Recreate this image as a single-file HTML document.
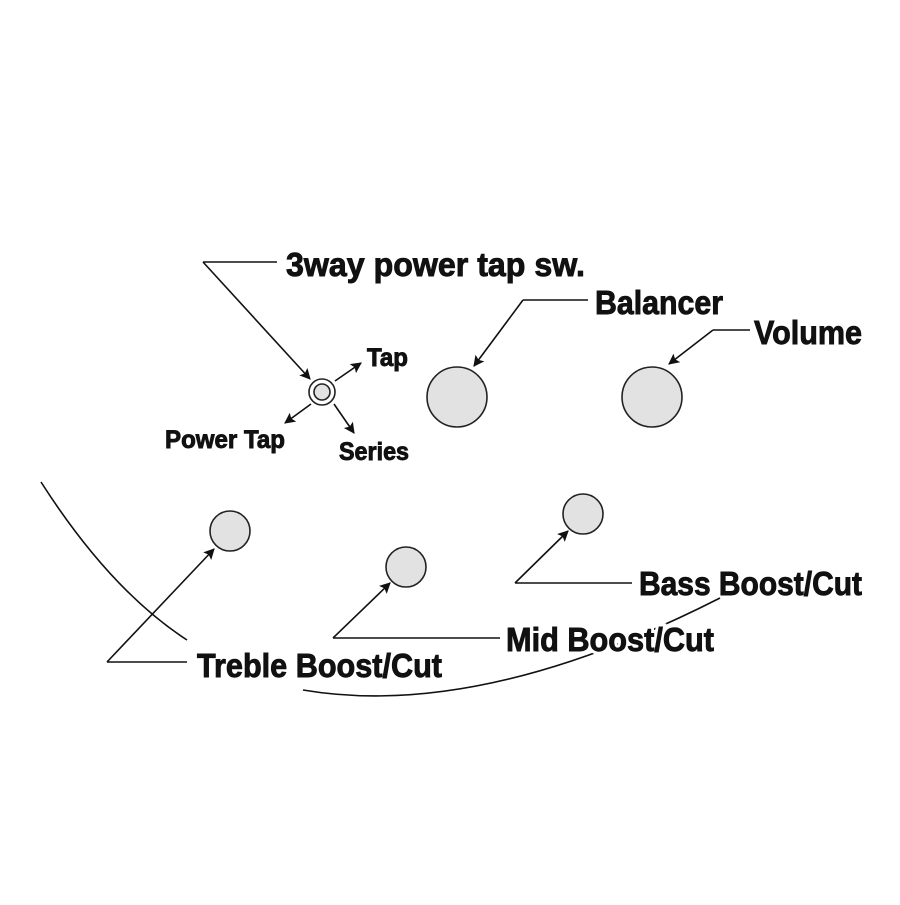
<!DOCTYPE html>
<html><head><meta charset="utf-8"><style>
html,body{margin:0;padding:0;background:#fff;}
svg text{font-family:"Liberation Sans Narrow","Liberation Sans",sans-serif;font-weight:bold;}
</style></head><body>
<svg width="900" height="900" viewBox="0 0 900 900" xmlns="http://www.w3.org/2000/svg">
<defs>
<marker id="a" viewBox="0 0 10 10" refX="9" refY="5" markerWidth="12" markerHeight="11" markerUnits="userSpaceOnUse" orient="auto">
<path d="M0,0 L10,5 L0,10 L2,5 z" fill="#111"/></marker>
</defs>
<g fill="none" stroke="#111" stroke-width="1.6">
<path d="M41,482 Q110,590 187,640"/>
<path d="M303,690 Q480,720 720,598"/>
<polyline points="277,262 203,262"/>
<line x1="203" y1="262" x2="310" y2="379" marker-end="url(#a)"/>
<line x1="335" y1="381" x2="361" y2="363" marker-end="url(#a)"/>
<line x1="311" y1="404" x2="285" y2="423" marker-end="url(#a)"/>
<line x1="334" y1="404" x2="354" y2="433" marker-end="url(#a)"/>
<line x1="588" y1="300" x2="523" y2="300"/>
<line x1="523" y1="300" x2="474" y2="366" marker-end="url(#a)"/>
<line x1="750" y1="330" x2="713" y2="330"/>
<line x1="713" y1="330" x2="669" y2="364" marker-end="url(#a)"/>
<line x1="187" y1="662" x2="107" y2="662"/>
<line x1="107" y1="662" x2="214" y2="549" marker-end="url(#a)"/>
<line x1="500" y1="638" x2="333" y2="638"/>
<line x1="333" y1="638" x2="390" y2="583" marker-end="url(#a)"/>
<line x1="632" y1="583" x2="515" y2="583"/>
<line x1="515" y1="583" x2="568" y2="531" marker-end="url(#a)"/>
</g>
<g stroke="#222" stroke-width="1.6" fill="#e2e2e2">
<circle cx="322" cy="392" r="13" fill="#fff"/>
<circle cx="322" cy="392" r="8"/>
<circle cx="457" cy="397" r="30"/>
<circle cx="652" cy="397" r="30"/>
<circle cx="230" cy="531" r="20"/>
<circle cx="406" cy="567" r="20"/>
<circle cx="583" cy="514" r="20"/>
</g>
<g fill="#fff" stroke="#fff" stroke-width="7">
<text x="506" y="651" font-size="33" textLength="208" lengthAdjust="spacingAndGlyphs">Mid Boost/Cut</text>
<text x="197" y="677" font-size="33" textLength="245" lengthAdjust="spacingAndGlyphs">Treble Boost/Cut</text>
</g>
<g fill="#111" stroke="#111" stroke-width="0.9">
<text x="286" y="276" font-size="33" textLength="299" lengthAdjust="spacingAndGlyphs">3way power tap sw.</text>
<text x="367" y="366" font-size="25" textLength="41" lengthAdjust="spacingAndGlyphs">Tap</text>
<text x="165" y="448" font-size="25" textLength="120" lengthAdjust="spacingAndGlyphs">Power Tap</text>
<text x="339" y="460" font-size="25" textLength="70" lengthAdjust="spacingAndGlyphs">Series</text>
<text x="595" y="314" font-size="33" textLength="128" lengthAdjust="spacingAndGlyphs">Balancer</text>
<text x="754" y="344" font-size="33" textLength="108" lengthAdjust="spacingAndGlyphs">Volume</text>
<text x="197" y="677" font-size="33" textLength="245" lengthAdjust="spacingAndGlyphs">Treble Boost/Cut</text>
<text x="506" y="651" font-size="33" textLength="208" lengthAdjust="spacingAndGlyphs">Mid Boost/Cut</text>
<text x="639" y="595" font-size="33" textLength="223" lengthAdjust="spacingAndGlyphs">Bass Boost/Cut</text>
</g>
</svg>
</body></html>
